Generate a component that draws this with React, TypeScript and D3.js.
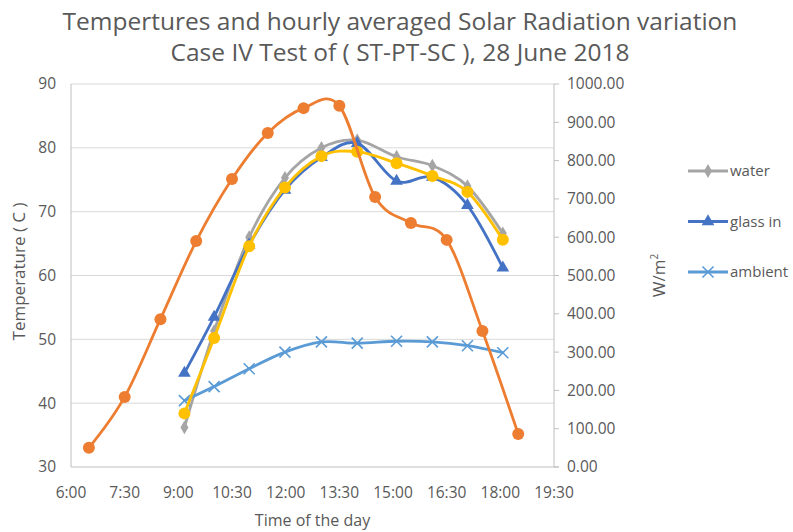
import React from "react";
import * as d3 from "d3";

// ---- data ----
const radTimes = [6.5, 7.5, 8.5, 9.5, 10.5, 11.5, 12.5, 13.5, 14.5, 15.5, 16.5, 17.5, 18.5];
const solarRadiation = [50, 183, 386, 590, 752, 872, 937, 943, 705, 637, 593, 355, 86];

const tempTimes = [9.17, 10.0, 10.98, 11.98, 13.0, 14.0, 15.1, 16.1, 17.08, 18.07];
const water = [36.2, 51.3, 66.0, 75.3, 80.0, 81.2, 78.6, 77.2, 74.0, 66.6];
const glassIn = [44.7, 53.5, 64.8, 73.4, 78.5, 80.7, 74.8, 75.4, 71.0, 61.2];
const ambient = [40.4, 42.6, 45.4, 48.0, 49.6, 49.4, 49.7, 49.6, 49.0, 47.9];
const plate = [38.4, 50.2, 64.6, 73.8, 78.7, 79.4, 77.6, 75.6, 73.1, 65.6];

const xTicks = [6, 7.5, 9, 10.5, 12, 13.5, 15, 16.5, 18, 19.5];
const leftTicks = [30, 40, 50, 60, 70, 80, 90];
const rightTicks = [0, 100, 200, 300, 400, 500, 600, 700, 800, 900, 1000];

const titleLines = [
  "Tempertures and hourly averaged Solar Radiation variation",
  "Case IV Test of ( ST-PT-SC ), 28 June 2018",
];

const C = {
  orange: "#ED7D31",
  gray: "#A5A5A5",
  blue: "#4472C4",
  yellow: "#FFC000",
  lblue: "#5B9BD5",
  text: "#595959",
  grid: "#D9D9D9",
  axis: "#BFBFBF",
};

const FONT = "'Open Sans', sans-serif";

function fmtTime(h: number) {
  const hh = Math.floor(h);
  const mm = Math.round((h - hh) * 60);
  return `${hh}:${mm.toString().padStart(2, "0")}`;
}

type Marker = "circle" | "diamond" | "triangle" | "x";

function MarkerShape({ type, x, y, color }: { type: Marker; x: number; y: number; color: string }) {
  if (type === "circle") return <circle cx={x} cy={y} r={6} fill={color} />;
  if (type === "diamond") {
    const p = d3.symbol().type(d3.symbolDiamond).size(55)();
    return <path d={p || ""} transform={`translate(${x},${y})`} fill={color} />;
  }
  if (type === "triangle") {
    const p = d3.symbol().type(d3.symbolTriangle).size(70)();
    return <path d={p || ""} transform={`translate(${x},${y})`} fill={color} />;
  }
  const s = 5.5;
  return (
    <g stroke={color} strokeWidth={1.6}>
      <line x1={x - s} y1={y - s} x2={x + s} y2={y + s} />
      <line x1={x - s} y1={y + s} x2={x + s} y2={y - s} />
    </g>
  );
}

export default function App() {
  const W = 793;
  const H = 532;
  const left = 71;
  const right = 554;
  const top = 84;
  const bottom = 467;

  const x = d3.scaleLinear().domain([6, 19.5]).range([left, right]);
  const yL = d3.scaleLinear().domain([30, 90]).range([bottom, top]);
  const yR = d3.scaleLinear().domain([0, 1000]).range([bottom, top]);

  const curve = d3.curveCardinal.tension(0);
  const lineFor = (ts: number[], vs: number[], y: d3.ScaleLinear<number, number>) =>
    d3
      .line<number>()
      .x((_, i) => x(ts[i]))
      .y((v) => y(v))
      .curve(curve)(vs) || "";

  const series: { name: string; ts: number[]; vs: number[]; y: any; color: string; marker: Marker }[] = [
    { name: "water", ts: tempTimes, vs: water, y: yL, color: C.gray, marker: "diamond" },
    { name: "glass in", ts: tempTimes, vs: glassIn, y: yL, color: C.blue, marker: "triangle" },
    { name: "ambient", ts: tempTimes, vs: ambient, y: yL, color: C.lblue, marker: "x" },
    { name: "plate", ts: tempTimes, vs: plate, y: yL, color: C.yellow, marker: "circle" },
    { name: "solar radiation", ts: radTimes, vs: solarRadiation, y: yR, color: C.orange, marker: "circle" },
  ];

  const legend = series.slice(0, 3);

  return (
    <>
      <style>{`body{margin:0}`}</style>
      <svg width={W} height={H} style={{ display: "block", background: "#fff" }} fontFamily={FONT}>
        {/* title */}
        {titleLines.map((t, i) => (
          <text key={i} x={400} y={30 + i * 31} textAnchor="middle" fontSize={24.5} fill={C.text}>
            {t}
          </text>
        ))}

        {/* gridlines */}
        {leftTicks.slice(1).map((t) => (
          <line key={t} x1={left} x2={right} y1={yL(t)} y2={yL(t)} stroke={C.grid} strokeWidth={1} />
        ))}

        {/* axes */}
        <line x1={left} x2={left} y1={top} y2={bottom} stroke={C.axis} strokeWidth={1} />
        <line x1={right} x2={right} y1={top} y2={bottom} stroke={C.axis} strokeWidth={1} />
        <line x1={left} x2={right + 5} y1={bottom} y2={bottom} stroke={C.axis} strokeWidth={1} />
        {rightTicks.map((t) => (
          <line key={t} x1={right} x2={right + 5} y1={yR(t)} y2={yR(t)} stroke={C.axis} strokeWidth={1} />
        ))}

        {/* left tick labels */}
        {leftTicks.map((t) => (
          <text key={t} x={56} y={yL(t)} dy="0.35em" textAnchor="end" fontSize={15.5} fill={C.text}>
            {t}
          </text>
        ))}
        {/* right tick labels */}
        {rightTicks.map((t) => (
          <text key={t} x={567} y={yR(t)} dy="0.35em" textAnchor="start" fontSize={15.5} fill={C.text}>
            {t.toFixed(2)}
          </text>
        ))}
        {/* x tick labels */}
        {xTicks.map((t) => (
          <text key={t} x={x(t)} y={498} textAnchor="middle" fontSize={15.5} fill={C.text}>
            {fmtTime(t)}
          </text>
        ))}

        {/* axis titles */}
        <text x={(left + right) / 2} y={526} textAnchor="middle" fontSize={16} fill={C.text}>
          Time of the day
        </text>
        <text
          transform={`translate(25,${(top + bottom) / 2 - 4}) rotate(-90)`}
          textAnchor="middle"
          fontSize={17}
          fill={C.text}
        >
          Temperature ( C )
        </text>
        <text
          transform={`translate(665,${(top + bottom) / 2}) rotate(-90)`}
          textAnchor="middle"
          fontSize={17}
          fill={C.text}
        >
          W/m<tspan fontSize={10} dy={-7}>2</tspan>
        </text>

        {/* series */}
        {series.map((s) => (
          <g key={s.name}>
            <path d={lineFor(s.ts, s.vs, s.y)} fill="none" stroke={s.color} strokeWidth={2.8} strokeLinecap="round" />
            {s.vs.map((v, i) => (
              <MarkerShape key={i} type={s.marker} x={x(s.ts[i])} y={s.y(v)} color={s.color} />
            ))}
          </g>
        ))}

        {/* legend */}
        {legend.map((s, i) => {
          const ly = 171 + i * 50.5;
          return (
            <g key={s.name}>
              <line x1={688} x2={728} y1={ly} y2={ly} stroke={s.color} strokeWidth={2.8} />
              <MarkerShape type={s.marker} x={708} y={ly} color={s.color} />
              <text x={730} y={ly} dy="0.35em" fontSize={15} fill={C.text}>
                {s.name}
              </text>
            </g>
          );
        })}
      </svg>
    </>
  );
}
